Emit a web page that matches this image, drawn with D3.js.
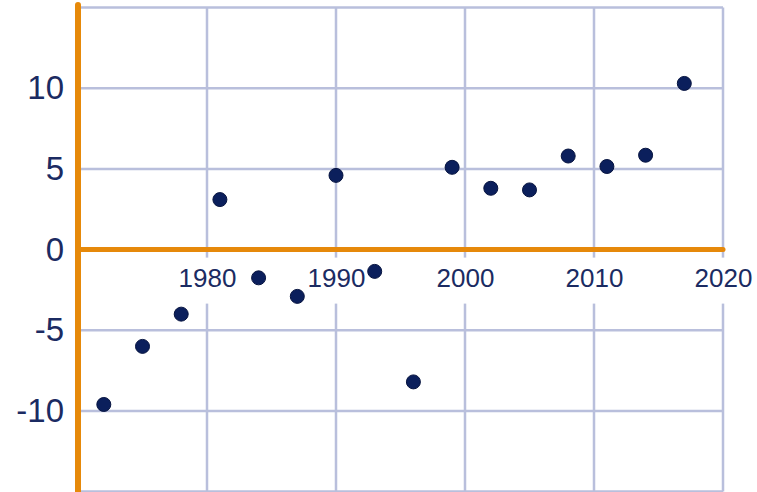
<!DOCTYPE html>
<html lang="en">
<head>
    <meta charset="UTF-8">
    <title>Scatter</title>
    <style>
        body { margin: 0; background: #fff; }
        svg { display: block; }
        text { font-family: "Liberation Sans", Arial, sans-serif; }
    </style>
</head>
<body>
    <script src="https://d3js.org/d3.v7.min.js"></script>
    <script>
        // data
        const years = [1972, 1975, 1978, 1981, 1984, 1987, 1990, 1993, 1996, 1999, 2002, 2005, 2008, 2011, 2014, 2017];
        const values = [-9.6, -6.0, -4.0, 3.1, -1.75, -2.9, 4.6, -1.35, -8.2, 5.1, 3.8, 3.7, 5.8, 5.15, 5.85, 10.3];
        const xTicks = [1980, 1990, 2000, 2010, 2020];
        const yTicks = [-10, -5, 0, 5, 10];
        const yGrid = [-15, -10, -5, 5, 10, 15];

        const w = 757;
        const h = 492;
        const orange = '#e6890a';
        const grid = '#b9bfdc';
        const navy = '#1b2b62';

        const x = d3.scaleLinear().domain([1970, 2020]).range([78, 723]);
        const y = d3.scaleLinear().domain([-15, 15]).range([491.6, 7.6]);

        const svg = d3.select('body').append('svg')
            .attr('width', w)
            .attr('height', h);

        // grid
        svg.append('g').selectAll('line')
            .data(xTicks)
            .enter().append('line')
            .attr('x1', d => x(d)).attr('x2', d => x(d))
            .attr('y1', y(15)).attr('y2', y(-15))
            .attr('stroke', grid).attr('stroke-width', 2.5);
        svg.append('g').selectAll('line')
            .data(yGrid)
            .enter().append('line')
            .attr('x1', x(1970)).attr('x2', x(2020))
            .attr('y1', d => y(d)).attr('y2', d => y(d))
            .attr('stroke', grid).attr('stroke-width', 2.5);

        // white boxes behind the year labels
        svg.append('g').selectAll('rect')
            .data(xTicks)
            .enter().append('rect')
            .attr('x', d => x(d) - 34)
            .attr('y', y(0) + 8)
            .attr('width', 68)
            .attr('height', 46)
            .attr('fill', '#fff');

        // orange axes
        svg.append('line')
            .attr('x1', x(1970)).attr('x2', x(2020))
            .attr('y1', y(0)).attr('y2', y(0))
            .attr('stroke', orange).attr('stroke-width', 5)
            .attr('stroke-linecap', 'round');
        svg.append('line')
            .attr('x1', x(1970)).attr('x2', x(1970))
            .attr('y1', 5).attr('y2', h + 5)
            .attr('stroke', orange).attr('stroke-width', 6)
            .attr('stroke-linecap', 'round');

        // y labels
        const yAxis = svg.append('g')
            .attr('transform', 'translate(64,0)')
            .call(d3.axisLeft(y).tickValues(yTicks).tickSize(0).tickPadding(0).tickFormat(d => String(d)));
        yAxis.select('.domain').remove();
        yAxis.selectAll('text')
            .attr('font-size', 33)
            .attr('font-family', '"Liberation Sans", Arial, sans-serif')
            .attr('fill', navy);

        // x labels
        const xAxis = svg.append('g')
            .attr('transform', 'translate(0,' + y(0) + ')')
            .call(d3.axisBottom(x).tickValues(xTicks).tickSize(0).tickPadding(19).tickFormat(d => String(d)));
        xAxis.select('.domain').remove();
        xAxis.selectAll('text')
            .attr('font-size', 26)
            .attr('font-family', '"Liberation Sans", Arial, sans-serif')
            .attr('fill', navy);

        // points
        svg.append('g').selectAll('circle')
            .data(years)
            .enter().append('circle')
            .attr('cx', d => x(d))
            .attr('cy', (d, i) => y(values[i]))
            .attr('r', 7)
            .attr('fill', '#0b1f5c')
            .attr('stroke', '#071440')
            .attr('stroke-width', 1);
    </script>
</body>
</html>
